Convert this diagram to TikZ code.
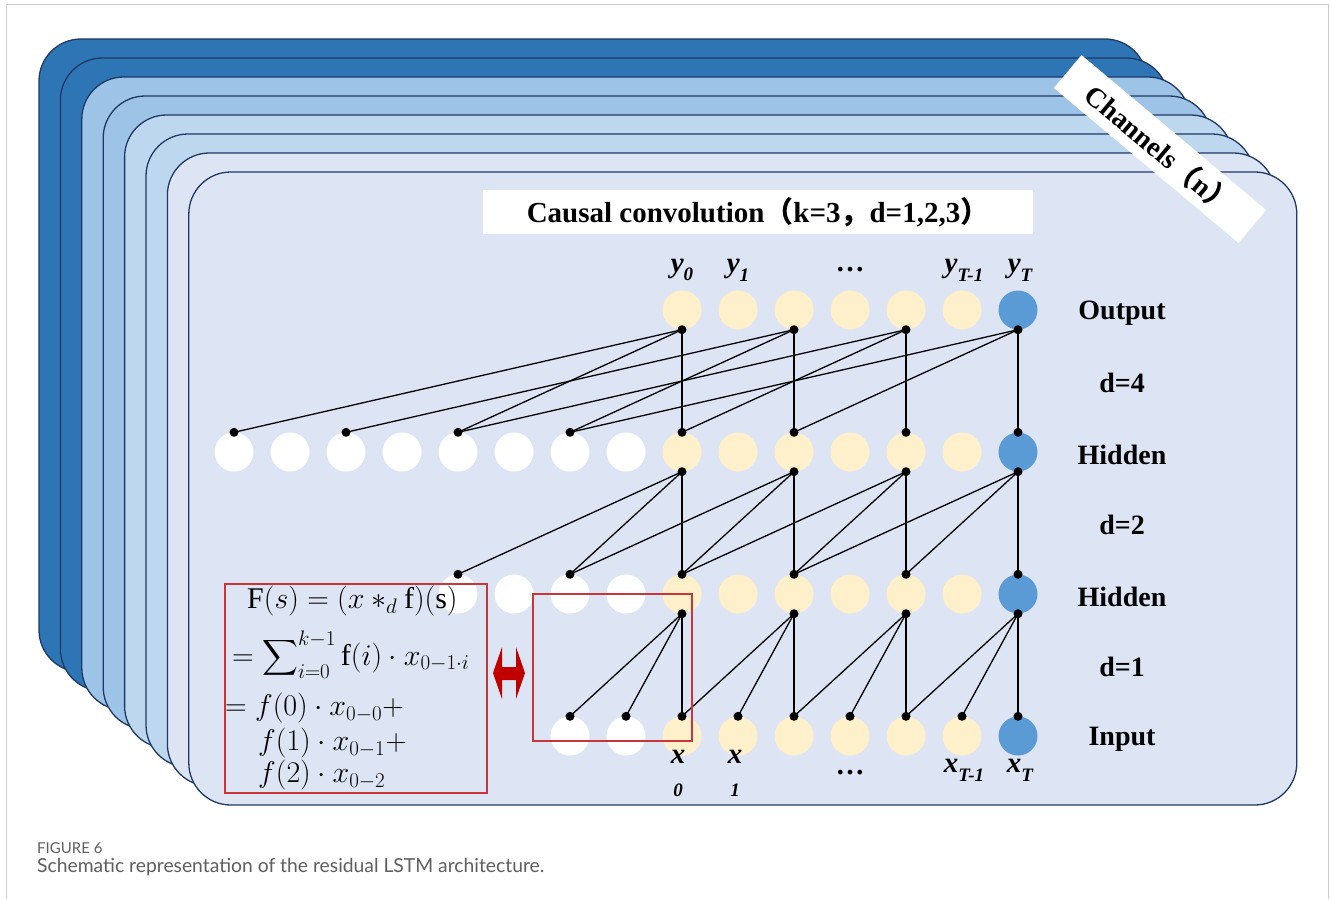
\documentclass[tikz,border=0pt]{standalone}
\usepackage{fix-cm}
\usepackage{amsmath}
\usepackage{fontspec}
\setmainfont{Liberation Serif}
\newfontfamily\capfont{Lato}
\newfontfamily\cjk{Noto Sans CJK SC}
\usetikzlibrary{positioning}
\definecolor{navy}{HTML}{1f3864}
\definecolor{lay1}{HTML}{2e75b6}
\definecolor{lay2}{HTML}{9dc3e6}
\definecolor{lay3}{HTML}{bdd7ee}
\definecolor{lay4}{HTML}{dde5f4}
\definecolor{cream}{HTML}{fff0cc}
\definecolor{unitblue}{HTML}{5b9bd5}
\definecolor{redc}{HTML}{c8363a}
\definecolor{darkred}{HTML}{c00000}
\definecolor{capgray}{HTML}{5f5f5f}
\newcommand{\lowix}[1]{\raisebox{-0.3em}{\fontsize{19}{20}\selectfont #1}}
\tikzset{
  lay/.style={draw=navy,line width=1.3pt,rounded corners=42pt},
  unit/.style={circle,minimum size=39pt,inner sep=0pt,draw=none},
  past/.style={unit,fill=white},
  cur/.style={unit,fill=cream},
  last/.style={unit,fill=unitblue},
  wire/.style={line width=1.3pt,draw=black},
  lbl/.style={font=\fontsize{28}{30}\selectfont\bfseries},
  tok/.style={font=\fontsize{29}{30}\selectfont\bfseries\itshape,inner sep=0pt},
  frm/.style={anchor=west,inner sep=0pt,font=\fontsize{30}{32}\selectfont},
  redbox/.style={draw=redc,line width=1.2pt,inner sep=0pt},
}

\begin{document}
\begin{tikzpicture}[x=1pt,y=-1pt]
\useasboundingbox (0,0) rectangle (1332,899);
\fill[white] (0,0) rectangle (1332,899);
\draw[black!20] (6,899) -- (6,4) -- (1328,4) -- (1328,899);
% stacked channels
\foreach \i/\c in {0/lay1,1/lay1,2/lay2,3/lay2,4/lay3,5/lay3,6/lay4,7/lay4}
  \draw[lay,fill=\c] (39+21.4*\i,39+19*\i) rectangle ++(1108,633);
\node[rotate=-40,fill=white,minimum width=241pt,minimum height=43pt,
      font=\fontsize{28}{30}\selectfont\bfseries] (chan) at (1160,149)
      {Channels{\cjk （}n{\cjk ）}};
\node[fill=white,minimum width=550pt,minimum height=44pt,
      font=\fontsize{29}{30}\selectfont\bfseries] (title) at (758,212)
      {Causal convolution{\cjk （}k=3{\cjk ，}d=1,2,3{\cjk ）}};
% units
\foreach \j in {8,...,13} \node[cur] (o\j) at (234+56*\j,310) {};
\node[last] (o14) at (1018,310) {};
\foreach \j in {0,...,7} \node[past] (h\j) at (234+56*\j,452) {};
\foreach \j in {8,...,13} \node[cur] (h\j) at (234+56*\j,452) {};
\node[last] (h14) at (1018,452) {};
\foreach \j in {4,...,7} \node[past] (m\j) at (234+56*\j,594) {};
\foreach \j in {8,...,13} \node[cur] (m\j) at (234+56*\j,594) {};
\node[last] (m14) at (1018,594) {};
\foreach \j in {6,7} \node[past] (n\j) at (234+56*\j,736) {};
\foreach \j in {8,...,13} \node[cur] (n\j) at (234+56*\j,736) {};
\node[last] (n14) at (1018,736) {};
% dilated connections
\foreach \j in {8,10,12,14} \foreach \k in {0,4,8} {
  \pgfmathtruncatemacro\t{\j-\k}
  \draw[wire] (o\j.south) -- (h\t.north);
}
\foreach \j in {8,10,12,14} \foreach \k in {0,2,4} {
  \pgfmathtruncatemacro\t{\j-\k}
  \draw[wire] (h\j.south) -- (m\t.north);
}
\foreach \j in {8,10,12,14} \foreach \k in {0,1,2} {
  \pgfmathtruncatemacro\t{\j-\k}
  \draw[wire] (m\j.south) -- (n\t.north);
}
\foreach \j in {8,10,12,14} {
  \fill (o\j.south) circle (4.5pt); \fill (h\j.south) circle (4.5pt); \fill (m\j.south) circle (4.5pt);
}
\foreach \j in {0,2,...,14} \fill (h\j.north) circle (4.5pt);
\foreach \j in {4,6,...,14} \fill (m\j.north) circle (4.5pt);
\foreach \j in {6,...,14} \fill (n\j.north) circle (4.5pt);
% labels
\node[tok] (ly0) at (682,270) {y\lowix{0}};
\node[tok] (ly1) at (738,270) {y\lowix{1}};
\node[tok] (lyd) at (850,270) {\upshape …};
\node[tok] (lyp) at (964,270) {y\lowix{T-1}};
\node[tok] (lyT) at (1020,270) {y\lowix{T}};
\node[tok] (lx0) at (678,757) {x};
\node[tok,font=\fontsize{19}{20}\selectfont\bfseries\itshape] (lx0i) at (678,790) {0};
\node[tok] (lx1) at (735,757) {x};
\node[tok,font=\fontsize{19}{20}\selectfont\bfseries\itshape] (lx1i) at (735,790) {1};
\node[tok] (lxd) at (850,773) {\upshape …};
\node[tok] (lxp) at (964,770) {x\lowix{T-1}};
\node[tok] (lxT) at (1020,770) {x\lowix{T}};
\node[lbl] (lout) at (1122,313) {Output};
\node[lbl] (ld4) at (1122,383) {d=4};
\node[lbl] (lh1) at (1122,455) {Hidden};
\node[lbl] (ld2) at (1122,525) {d=2};
\node[lbl] (lh2) at (1122,597) {Hidden};
\node[lbl] (ld1) at (1122,667) {d=1};
\node[lbl] (lin) at (1122,739) {Input};
% formula
\node[frm] (f1) at (247,601) {$\mathrm{F}(s)=(x*_{d}\mathrm{f})(\mathrm{s})$};
\node[frm] (f2) at (232,655) {$=\displaystyle\sum\nolimits_{i=0}^{k-1}\mathrm{f}(i)\cdot x_{0-1\cdot i}$};
\node[frm] (f3) at (225,708) {$=f(0)\cdot x_{0-0}{+}$};
\node[frm] (f4) at (258,743) {$f(1)\cdot x_{0-1}{+}$};
\node[frm] (f5) at (258,775) {$f(2)\cdot x_{0-2}$};
\node[redbox,minimum width=262pt,minimum height=209pt] (fbox) at (356,688.5) {};
\node[redbox,minimum width=159pt,minimum height=147pt] (kbox) at (612.5,667.5) {};
\fill[darkred] (493,673) -- (502,647) -- (502,667) -- (516,667) -- (516,647) -- (525,673)
  -- (516,699) -- (516,680) -- (502,680) -- (502,699) -- cycle;
% caption
\node[anchor=west,inner sep=0pt,font=\capfont\fontsize{15}{17}\selectfont,text=capgray] (fig) at (37,848) {FIGURE 6};
\node[anchor=west,inner sep=0pt,font=\capfont\fontsize{19.3}{22}\selectfont,text=capgray] (cap) at (37,867) {Schematic representation of the residual LSTM architecture.};
\end{tikzpicture}
\end{document}
